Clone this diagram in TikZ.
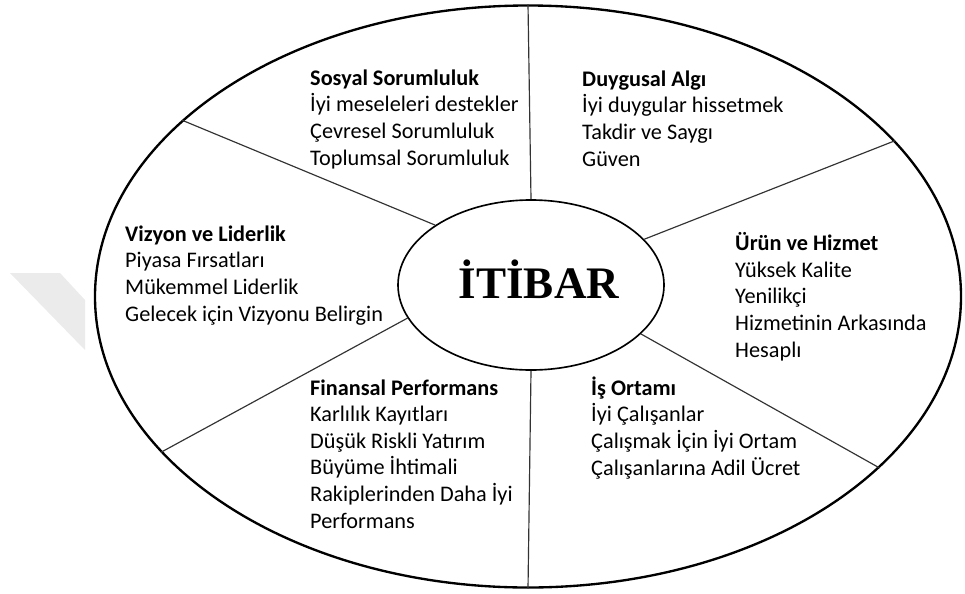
\documentclass[tikz,border=0pt]{standalone}
\usepackage{fontspec}
\setmainfont{Carlito}
\newfontfamily\titlefont{Liberation Serif}
\usetikzlibrary{shapes.geometric}
\tikzset{
  ring/.style={draw, ellipse, inner sep=0pt},
  spoke/.style={draw=black!80, line width=1pt},
  % placed at the baseline of the last line
  itemlist/.style={anchor=base west, align=left, inner sep=0pt,
    font=\fontsize{19}{22.7}\selectfont},
}
\begin{document}
\begin{tikzpicture}[x=0.3mm,y=-0.3mm]
\useasboundingbox (0,0) rectangle (965,593);
% light grey patch at the left edge
\fill[black!8] (10,273) -- (60,273) -- (85,300) -- (85,350) -- cycle;
% the two rings
\node[ring, line width=2pt, minimum width=259.8mm, minimum height=174.6mm] (outer) at (528,296.5) {};
\node[ring, line width=1.4pt, minimum width=79.8mm, minimum height=51mm] (inner) at (531,285) {};
\node[font=\titlefont\bfseries\fontsize{38.5}{40}\selectfont, anchor=base] (title) at (539,298) {İTİBAR};
% spokes between the rings
\draw[spoke] (inner.90) -- (outer.90);
\draw[spoke] (inner.22.8) -- (outer.23.3);
\draw[spoke] (inner.-24.1) -- (outer.-26.2);
\draw[spoke] (inner.-90) -- (outer.-90);
\draw[spoke] (inner.195.5) -- (outer.203.4);
\draw[spoke] (inner.148.5) -- (outer.153.6);
% the six sectors
\node[itemlist] (sosyal) at (310,165) {\textbf{Sosyal Sorumluluk}\\İyi meseleleri destekler\\Çevresel Sorumluluk\\Toplumsal Sorumluluk};
\node[itemlist] (duygu) at (582,166) {\textbf{Duygusal Algı}\\İyi duygular hissetmek\\Takdir ve Saygı\\Güven};
\node[itemlist] (vizyon) at (125,321) {\textbf{Vizyon ve Liderlik}\\Piyasa Fırsatları\\Mükemmel Liderlik\\Gelecek için Vizyonu Belirgin};
\node[itemlist] (urun) at (735,357) {\textbf{Ürün ve Hizmet}\\Yüksek Kalite\\Yenilikçi\\Hizmetinin Arkasında\\Hesaplı};
\node[itemlist] (finans) at (310,528) {\textbf{Finansal Performans}\\Karlılık Kayıtları\\Düşük Riskli Yatırım\\Büyüme İhtimali\\Rakiplerinden Daha İyi\\Performans};
\node[itemlist] (ortam) at (591,475) {\textbf{İş Ortamı}\\İyi Çalışanlar\\Çalışmak İçin İyi Ortam\\Çalışanlarına Adil Ücret};
\end{tikzpicture}
\end{document}
